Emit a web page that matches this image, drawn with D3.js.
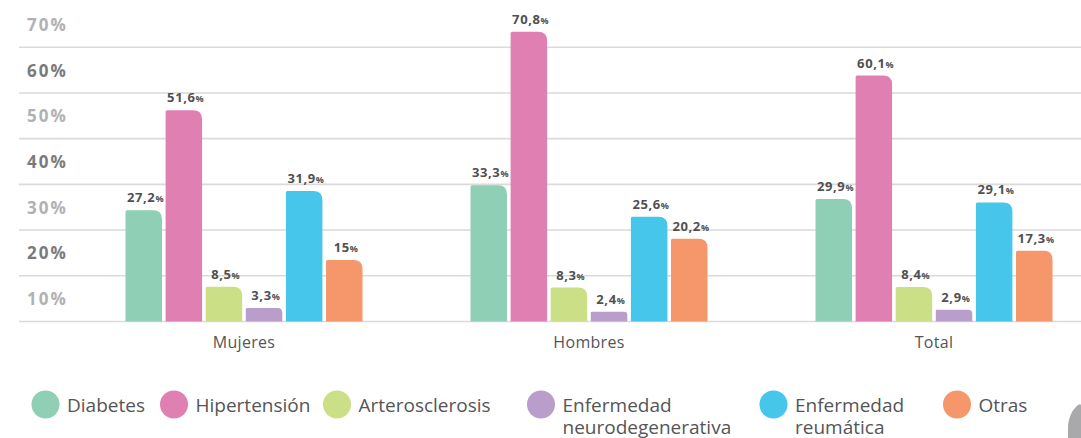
<!DOCTYPE html>
<html>
<head>
<meta charset="utf-8">
<script src="https://cdn.jsdelivr.net/npm/d3@7"></script>
<style>
  html, body { margin: 0; padding: 0; background: #ffffff; }
  svg { display: block; }
</style>
</head>
<body>
<svg id="chart" width="1081" height="438"></svg>
<script>
// ---- data ----
const groups = ["Mujeres", "Hombres", "Total"];
const series = ["Diabetes", "Hipertensión", "Arterosclerosis", "Enfermedad neurodegenerativa", "Enfermedad reumática", "Otras"];
const legendLines = [["Diabetes"], ["Hipertensión"], ["Arterosclerosis"], ["Enfermedad", "neurodegenerativa"], ["Enfermedad", "reumática"], ["Otras"]];
const valuesMujeres = [27.2, 51.6, 8.5, 3.3, 31.9, 15];
const valuesHombres = [33.3, 70.8, 8.3, 2.4, 25.6, 20.2];
const valuesTotal   = [29.9, 60.1, 8.4, 2.9, 29.1, 17.3];
const tickLabels = [10, 20, 30, 40, 50, 60, 70];
const colors = ["#8ecfb5", "#e080b2", "#cbdf86", "#b99ecb", "#46c6ea", "#f5966b"];

const dataByGroup = [valuesMujeres, valuesHombres, valuesTotal];

const svg = d3.select("#chart");

// ---- scales ----
const baseY = 321.5;
const x0 = d3.scaleBand().domain(groups).range([71.5, 1106.5]).padding(0);
const x1 = d3.scaleBand().domain(series).range([-118.5, 118.5]).paddingInner(0.09).paddingOuter(0);
const yBar = d3.scaleLinear().domain([0, 70]).range([baseY, 35]);
const yGrid = d3.scaleLinear().domain([0, 70]).range([baseY, 1.5]);
const color = d3.scaleOrdinal().domain(series).range(colors);

// ---- gridlines ----
const gridVals = [0].concat(tickLabels.slice(0, -1));
svg.append("g").selectAll("line").data(gridVals).join("line")
  .attr("x1", 19).attr("x2", 1081)
  .attr("y1", d => yGrid(d)).attr("y2", d => yGrid(d))
  .attr("stroke", "#dadada").attr("stroke-width", 1.6);

// ---- y labels (placed in the band above each line) ----
svg.append("g").selectAll("text").data(tickLabels).join("text")
  .attr("x", 27)
  .attr("y", d => yGrid(d - 5) + 2)
  .attr("dominant-baseline", "middle")
  .attr("font-family", "'Open Sans', sans-serif")
  .attr("font-weight", 700)
  .attr("font-size", 17)
  .attr("letter-spacing", 2)
  .attr("fill", (d, i) => (i % 2 === 1 ? "#7a7a7c" : "#b1b1b3"))
  .text(d => d + "%");

// ---- bars ----
function barPath(x, w, yTop) {
  const h = baseY - yTop;
  const r = Math.min(9, h * 0.35, w / 2);
  const rl = Math.min(1.5, h * 0.1);
  return `M${x},${baseY}` +
    `L${x},${yTop + rl}Q${x},${yTop} ${x + rl},${yTop}` +
    `L${x + w - r},${yTop}Q${x + w},${yTop} ${x + w},${yTop + r}` +
    `L${x + w},${baseY}Z`;
}

const gGroups = svg.append("g").selectAll("g").data(groups).join("g")
  .attr("transform", g => `translate(${x0(g) + x0.bandwidth() / 2},0)`);

gGroups.each(function(g, gi) {
  const vals = dataByGroup[gi].map((v, i) => ({ key: series[i], value: v }));
  const sel = d3.select(this);
  sel.selectAll("path").data(vals).join("path")
    .attr("d", d => barPath(x1(d.key), x1.bandwidth(), yBar(d.value)))
    .attr("fill", d => color(d.key));

  const lab = sel.selectAll("text.val").data(vals).join("text")
    .attr("class", "val")
    .attr("x", d => x1(d.key) + x1.bandwidth() / 2 + 1.5)
    .attr("y", d => yBar(d.value) - 8)
    .attr("text-anchor", "middle")
    .attr("font-family", "'Open Sans', sans-serif")
    .attr("font-weight", 700)
    .attr("fill", "#505052");
  lab.append("tspan").attr("font-size", 13).attr("letter-spacing", 0.6)
    .text(d => String(d.value).replace(".", ","));
  lab.append("tspan").attr("font-size", 9).text("%");

  sel.append("text")
    .attr("x", 0).attr("y", 347.5)
    .attr("text-anchor", "middle")
    .attr("font-family", "'Open Sans', sans-serif")
    .attr("font-size", 16)
    .attr("letter-spacing", 0.3)
    .attr("fill", "#555557")
    .text(g);
});

// ---- legend ----
const legendX = [45.5, 174, 337, 541, 773.5, 957];
const lg = svg.append("g").selectAll("g").data(series).join("g")
  .attr("transform", (d, i) => `translate(${legendX[i]},404.5)`);
lg.append("circle").attr("r", 14).attr("fill", d => color(d));
lg.each(function(d, i) {
  const lines = legendLines[i];
  const t = d3.select(this).append("text")
    .attr("x", 21.5)
    .attr("font-family", "'Open Sans', sans-serif")
    .attr("font-size", 19)
    .attr("fill", "#555557");
  lines.forEach((ln, k) => {
    t.append("tspan").attr("x", 21.5).attr("y", 7 + k * 22.5).text(ln);
  });
});

// ---- decorative corner shape ----
svg.append("path")
  .attr("d", "M1068,438 L1068,428 C1068,418 1072,410 1078,405 C1080,403.5 1081,404 1081,406 L1081,438 Z")
  .attr("fill", "#a9a9ab");
</script>
</body>
</html>
